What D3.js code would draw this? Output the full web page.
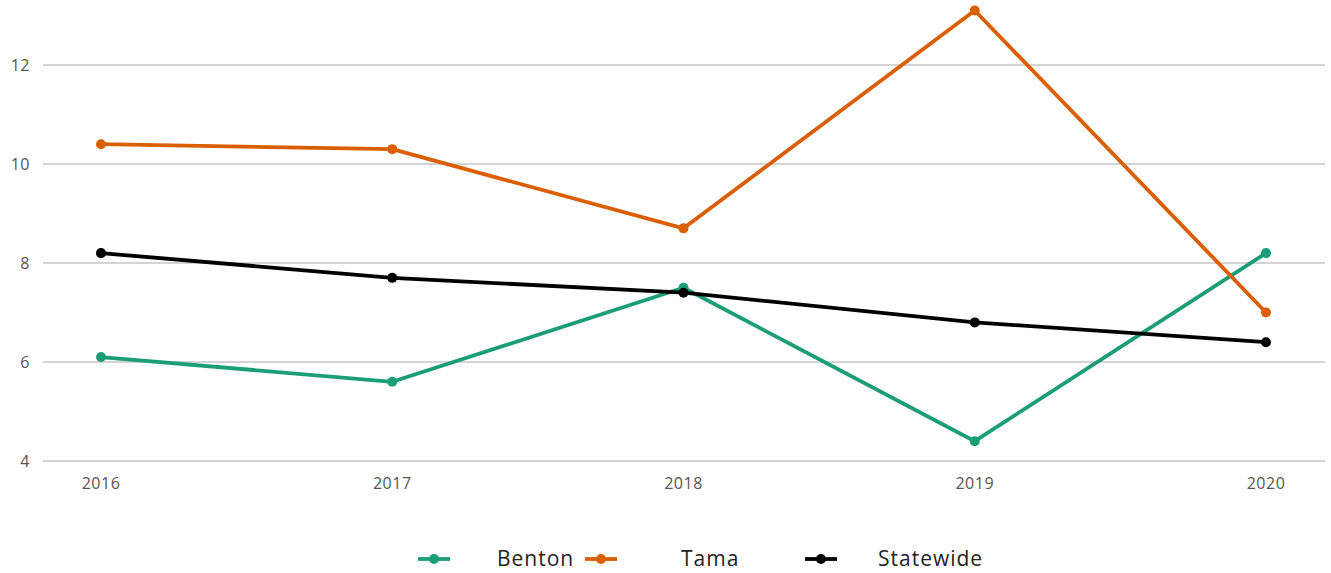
<!DOCTYPE html>
<html>
<head>
<meta charset="utf-8">
<script src="https://cdn.jsdelivr.net/npm/d3@7"></script>
<style>
  body { margin: 0; background: #fff; }
  text { font-family: "Open Sans", "Noto Sans", sans-serif; }
</style>
</head>
<body>
<svg id="chart"></svg>
<script>
// data
const years = [2016, 2017, 2018, 2019, 2020];
const benton = [6.1, 5.6, 7.5, 4.4, 8.2];
const tama = [10.4, 10.3, 8.7, 13.1, 7.0];
const statewide = [8.2, 7.7, 7.4, 6.8, 6.4];
const yTicks = [4, 6, 8, 10, 12];

const seriesNames = ["Benton", "Tama", "Statewide"];
const seriesColors = ["#1b9e77", "#d95f02", "#000000"];
const seriesValues = [benton, tama, statewide];

const width = 1331, height = 573;
const svg = d3.select("#chart").attr("width", width).attr("height", height);

const gridLeft = 43, gridRight = 1325;

const x = d3.scalePoint().domain(years).range([101, 1266]);
const y = d3.scaleLinear().domain([4, 12]).range([461, 65]);

// horizontal gridlines
svg.append("g")
  .selectAll("line")
  .data(yTicks)
  .enter()
  .append("line")
  .attr("x1", gridLeft)
  .attr("x2", gridRight)
  .attr("y1", d => y(d))
  .attr("y2", d => y(d))
  .attr("stroke", "#d4d4d4")
  .attr("stroke-width", 2.2);

// y labels
svg.append("g")
  .selectAll("text")
  .data(yTicks)
  .enter()
  .append("text")
  .attr("x", 30)
  .attr("y", d => y(d))
  .attr("dy", "0.35em")
  .attr("text-anchor", "end")
  .attr("fill", "#555")
  .attr("font-size", 16)
  .attr("letter-spacing", 0.5)
  .text(d => d);

// x labels
svg.append("g")
  .selectAll("text")
  .data(years)
  .enter()
  .append("text")
  .attr("x", d => x(d))
  .attr("y", 489)
  .attr("text-anchor", "middle")
  .attr("fill", "#555")
  .attr("font-size", 16)
  .attr("letter-spacing", 0.5)
  .text(d => d);

const line = d3.line()
  .x((d, i) => x(years[i]))
  .y(d => y(d));

seriesValues.forEach(function (vals, k) {
  const g = svg.append("g");
  g.append("path")
    .datum(vals)
    .attr("d", line)
    .attr("fill", "none")
    .attr("stroke", seriesColors[k])
    .attr("stroke-width", 3.8)
    .attr("stroke-linejoin", "round");
  g.selectAll("circle")
    .data(vals)
    .enter()
    .append("circle")
    .attr("cx", (d, i) => x(years[i]))
    .attr("cy", d => y(d))
    .attr("r", 5)
    .attr("fill", seriesColors[k]);
});

// legend
const legendX = [418, 585, 805];
const legendY = 559;
const legend = svg.append("g")
  .selectAll("g")
  .data(seriesNames)
  .enter()
  .append("g")
  .attr("transform", (d, i) => "translate(" + legendX[i] + "," + legendY + ")");

legend.append("line")
  .attr("x1", 0).attr("x2", 32)
  .attr("stroke", (d, i) => seriesColors[i])
  .attr("stroke-width", 3.8);
legend.append("circle")
  .attr("cx", 16).attr("r", 5)
  .attr("fill", (d, i) => seriesColors[i]);
legend.append("text")
  .attr("x", (d, i) => [79, 96, 73][i])
  .attr("dy", "0.35em")
  .attr("font-size", 21)
  .attr("letter-spacing", 1)
  .attr("fill", "#222")
  .text(d => d);
</script>
</body>
</html>
